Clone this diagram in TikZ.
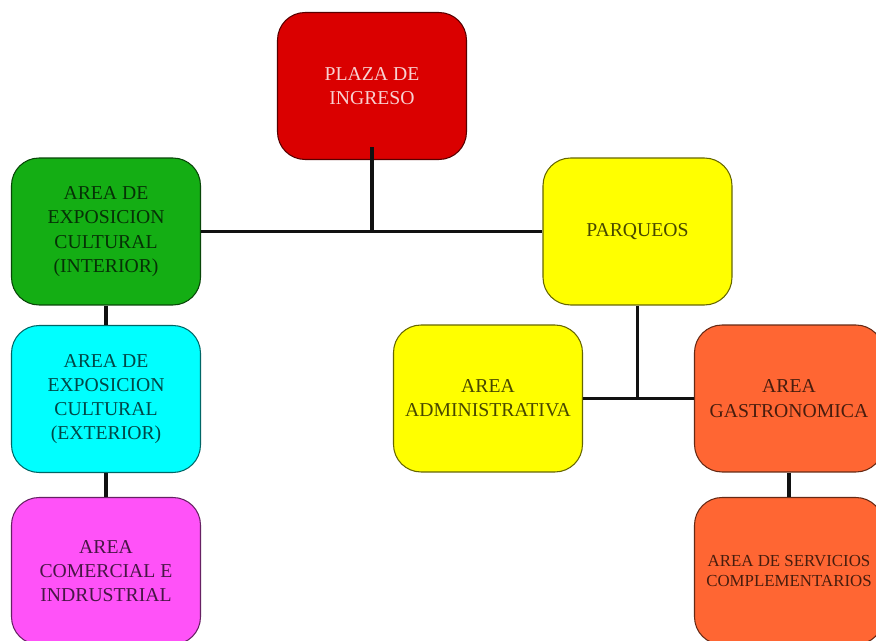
\documentclass[tikz,border=0pt]{standalone}
\usepackage{fontspec}
\setmainfont{Liberation Serif}
\usetikzlibrary{positioning}
\definecolor{Rojo}{HTML}{DA0000}
\definecolor{Verde}{HTML}{14AE14}
\definecolor{Celeste}{HTML}{00FFFF}
\definecolor{Amarillo}{HTML}{FFFF00}
\definecolor{Naranja}{HTML}{FF6633}
\definecolor{Rosa}{HTML}{FF52F8}
\definecolor{Linea}{HTML}{111111}

\begin{document}
\begin{tikzpicture}[x=.02cm,y=-.02cm,
  area/.style={draw=#1!40!black,fill=#1,line width=.6pt,rounded corners=.55cm,
    minimum width=3.78cm,minimum height=2.94cm,align=center,text=#1!28!black,
    font=\fontsize{11.2}{13.8}\selectfont},
  enlace/.style={draw=Linea,line width=1.8pt}]
\clip (0,0) rectangle (876,641);
% bloques
\node[area=Rojo,text=Rojo!18] (plaza) at (372,86) {PLAZA DE\\INGRESO};
\node[area=Verde] (interior) at (106,231.5) {AREA DE\\EXPOSICION\\CULTURAL\\(INTERIOR)};
\node[area=Amarillo] (parqueos) at (637.5,231.5) {PARQUEOS};
\node[area=Celeste] (exterior) at (106,399) {AREA DE\\EXPOSICION\\CULTURAL\\(EXTERIOR)};
\node[area=Amarillo] (admin) at (488,398.5) {AREA\\ADMINISTRATIVA};
\node[area=Naranja] (gastro) at (789,398.5) {AREA\\GASTRONOMICA};
\node[area=Rosa] (comercial) at (106,571) {AREA\\COMERCIAL E\\INDRUSTRIAL};
\node[area=Naranja,font=\fontsize{9.6}{11.5}\selectfont] (servicios) at (789,571)
  {AREA DE SERVICIOS\\COMPLEMENTARIOS};
% enlaces
\coordinate (cruce1) at (plaza.south |- interior.east);
\coordinate (cruce2) at (parqueos.south |- admin.east);
\draw[enlace] (interior.east) -- (parqueos.west);
\draw[enlace] ([yshift=.26cm]plaza.south) -- (cruce1);
\draw[enlace] (interior.south) -- (exterior.north);
\draw[enlace] (exterior.south) -- (comercial.north);
\draw[enlace] (admin.east) -- (gastro.west);
\draw[enlace] (parqueos.south) -- (cruce2);
\draw[enlace] (gastro.south) -- (servicios.north);
\end{tikzpicture}
\end{document}
